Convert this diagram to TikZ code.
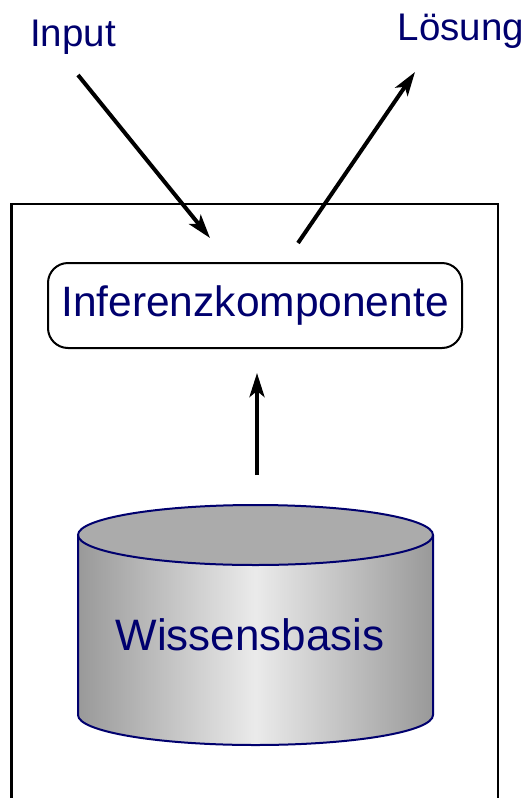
\documentclass[tikz,border=0pt]{standalone}
\usepackage{fontspec}
\setmainfont{Liberation Sans}
\usetikzlibrary{arrows.meta}
\definecolor{navytext}{RGB}{0,0,110}
\tikzset{
  conn/.style={line width=4pt,-{Stealth[length=24pt,width=15pt,inset=6pt]}},
  lbl/.style={text=navytext,font=\fontsize{38.5}{44}\selectfont,inner sep=0pt},
  infbox/.style={draw=black,line width=2pt,rounded corners=20pt,minimum width=414pt,minimum height=85pt,text=navytext,font=\fontsize{42.5}{48}\selectfont,inner sep=0pt},
}
\begin{document}
\begin{tikzpicture}[x=1pt,y=1pt]
\useasboundingbox (0,0) rectangle (530,-798);
% outer frame
\draw[line width=2.5pt] (11.5,-805) -- (11.5,-204) -- (498,-204) -- (498,-805);
% labels
\node[lbl,anchor=base] (inp) at (73,-46) {Input};
\node[lbl,anchor=base] (los) at (461,-40) {Lösung};
% inference component
\node[infbox] (inf) at (255,-305.5) {Inferenzkomponente};
% knowledge base cylinder
\shade[shading=axis,shading angle=90,left color=black!40,right color=black!40,middle color=black!8]
  (78,-535) -- (78,-715) arc[start angle=180,end angle=360,x radius=177.5,y radius=30] -- (433,-535) -- cycle;
\fill[black!33] (255.5,-535) ellipse[x radius=177.5,y radius=30];
\draw[navytext,line width=2pt] (78,-535) -- (78,-715) arc[start angle=180,end angle=360,x radius=177.5,y radius=30] -- (433,-535);
\draw[navytext,line width=2pt] (255.5,-535) ellipse[x radius=177.5,y radius=30];
\node[lbl,font=\fontsize{44}{50}\selectfont] (wb) at (250,-635) {Wissensbasis};
\coordinate (dbtop) at (257,-475);
% arrow endpoints
\coordinate (inS) at (78,-75);
\coordinate (inE) at (210,-238);
\coordinate (outS) at (298,-243);
\coordinate (outE) at (415,-72);
\coordinate (kbE) at (257,-373);
\draw[conn] (inS) -- (inE);
\draw[conn] (outS) -- (outE);
\draw[conn] (dbtop) -- (kbE);
\end{tikzpicture}
\end{document}
